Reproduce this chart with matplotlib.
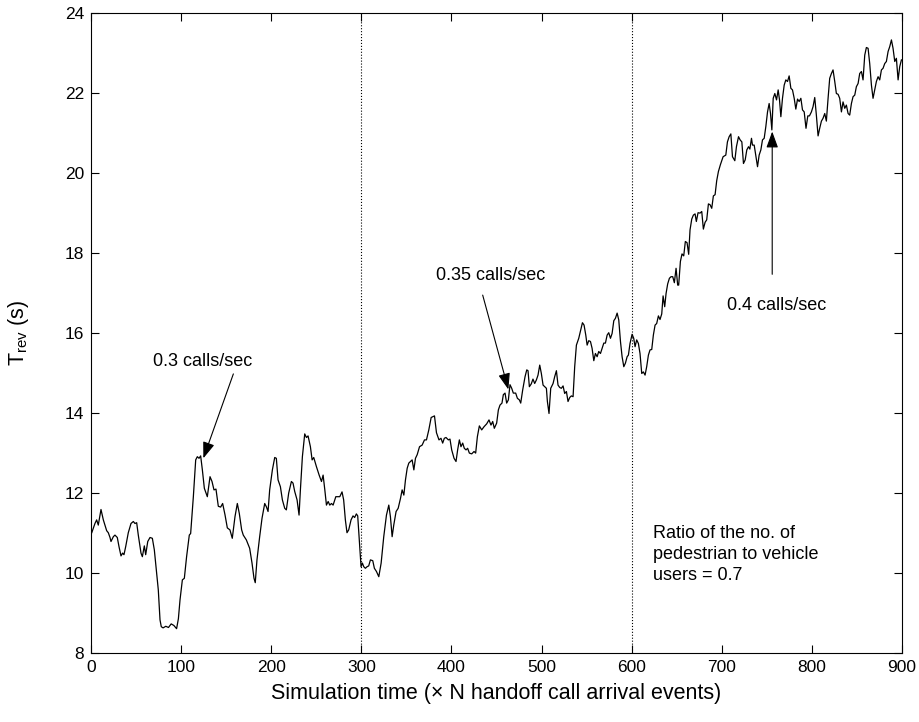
import matplotlib
matplotlib.use("Agg")
import matplotlib.pyplot as plt

plt.rcParams['font.family'] = ['Liberation Sans', 'DejaVu Sans']

# simulation time (x N handoff call arrival events)
t = [0, 0.7, 4.4, 6.3, 8.1, 11.1, 13.7, 17.4, 19.2, 21.1, 22.2, 24.8, 26.6, 29.2, 31.1,
     33.3, 35.1, 36.6, 38.5, 41.4, 44.4, 47.0, 48.8, 50.7, 52.5, 55.5, 57.0, 59.2, 60.7,
     63.0, 65.5, 68.1, 70.3, 72.2, 74.7, 76.6, 78, 80, 83, 86, 89, 92, 95, 97, 98.8,
     101.4, 103.6, 106.1, 109.1, 110.6, 113.6, 116.2, 118.0, 119.9, 121.7, 123.6, 125.8,
     129.1, 132.1, 134.3, 136.5, 138.7, 141.3, 143.9, 146.1, 148.7, 151.3, 154.2, 156.8,
     159.8, 162.4, 164.6, 167.2, 169.0, 172.4, 176.1, 178.7, 180.9, 182.3, 184.2, 187.2,
     189.8, 192.8, 194.6, 196.5, 198.3, 201.3, 203.9, 205.7, 207.6, 210.2, 212.4, 215.0,
     216.8, 219.4, 222.4, 224.2, 226.1, 228.7, 230.9, 232.4, 234.6, 237.2, 239.1, 240.9,
     243.5, 245.4, 247.2, 250.2, 253.2, 255.8, 257.6, 259.5, 261.3, 263.2, 265.0, 266.9,
     268.7, 271.7, 274.3, 276.1, 278.6, 280.4, 282.3, 284.1, 286.0, 288.6, 290.8, 292.6,
     294.5, 296.0, 297.5, 299.7, 301.2, 302.7, 304.5, 306.4, 308.2, 310.1, 312.7, 314.5,
     316.8, 319.4, 322.0, 324.9, 327.9, 330.5, 332.3, 334.2, 336.0, 338.6, 340.9, 343.5,
     345.3, 347.2, 349.0, 350.9, 352.7, 354.6, 356.4, 358.3, 360.1, 362.0, 364.6, 367.5,
     370.1, 372.3, 374.9, 377.5, 379.4, 381.2, 383.4, 386.2, 388.4, 390.3, 392.1, 394.0,
     396.6, 398.4, 400.3, 402.9, 405.1, 406.9, 408.8, 410.6, 412.5, 414.3, 416.2, 418.0,
     419.9, 422.5, 425.1, 426.9, 428.8, 431.0, 433.6, 436.2, 439.1, 441.7, 443.9, 445.8,
     447.6, 450.2, 452.1, 453.9, 456.1, 457.6, 459.5, 461.3, 463.2, 465.0, 466.9, 468.7,
     471.3, 473.2, 475.4, 476.9, 479.1, 481.7, 483.6, 485.0, 486.5, 488.6, 490.5, 492.4,
     494.3, 496.1, 498.0, 499.8, 501.7, 503.5, 505.4, 506.5, 508.3, 510.2, 512.8, 514.6,
     516.5, 518.3, 520.2, 522.0, 523.9, 525.7, 527.6, 529.4, 531.3, 533.1, 535.0, 536.8,
     538.7, 541.3, 543.5, 545.4, 547.2, 549.1, 550.6, 552.4, 554.3, 556.1, 558.0, 559.8,
     561.7, 563.5, 565.4, 567.2, 569.1, 570.9, 572.8, 574.6, 576.5, 578.3, 580.2, 582.0,
     583.9, 585.7, 587.6, 589.4, 591.3, 593.1, 595.0, 596.4, 598.2, 600.5, 602.3, 603.8,
     605.6, 607.5, 609.3, 611.2, 613.0, 614.9, 616.7, 618.6, 620.4, 622.3, 624.1, 626.0,
     627.8, 629.7, 631.5, 633.4, 634.9, 636.7, 638.2, 640.0, 641.9, 643.7, 645.6, 647.4,
     649.3, 651.1, 652.2, 654.1, 655.9, 657.8, 659.6, 661.5, 663.3, 664.8, 666.7, 668.5,
     670.4, 671.8, 673.7, 675.9, 677.8, 679.6, 681.5, 683.3, 685.2, 687.0, 688.9, 690.7,
     692.6, 694.4, 696.3, 698.5, 701.5, 704.5, 706.3, 708.2, 710.1, 711.9, 714.5, 716.3,
     718.6, 720.4, 722.3, 724.1, 726.0, 727.8, 729.7, 731.2, 733.0, 734.1, 736.0, 737.8,
     739.7, 741.5, 743.4, 745.2, 747.1, 748.9, 750.8, 752.6, 754.1, 755.6, 757.1, 758.9,
     760.8, 762.6, 764.1, 765.6, 767.4, 769.3, 771.1, 773.0, 774.8, 776.7, 778.5, 780.4,
     782.2, 784.1, 785.9, 787.8, 789.6, 791.5, 793.5, 795.5, 797.3, 799.5, 801.3, 803.2,
     805.0, 806.9, 808.7, 810.6, 812.4, 814.3, 816.1, 818.0, 819.8, 821.7, 823.5, 825.4,
     827.2, 829.1, 830.9, 832.8, 834.6, 836.5, 838.3, 840.2, 842.0, 843.9, 845.7, 847.6,
     849.4, 851.3, 853.1, 855.0, 856.8, 858.7, 860.5, 862.4, 864.2, 866.1, 867.9, 869.8,
     871.6, 873.5, 875.3, 877.2, 879.0, 880.9, 882.7, 884.6, 886.4, 888.3, 890.1, 892.0,
     893.8, 895.7, 897.5, 899.4]

# T_rev in seconds
trev = [11.2, 10.99, 11.23, 11.32, 11.19, 11.58, 11.32, 11.05, 11.0, 10.88, 10.78, 10.9,
        10.94, 10.88, 10.65, 10.42, 10.49, 10.45, 10.65, 11.0, 11.23, 11.28, 11.23, 11.25,
        10.94, 10.49, 10.4, 10.67, 10.45, 10.78, 10.88, 10.86, 10.57, 10.15, 9.57, 8.82,
        8.65, 8.62, 8.66, 8.63, 8.72, 8.68, 8.6, 8.85, 9.32, 9.82, 9.86, 10.4, 10.94, 10.98,
        11.9, 12.82, 12.9, 12.86, 12.92, 12.57, 12.11, 11.9, 12.4, 12.28, 12.07, 12.09,
        11.66, 11.64, 11.73, 11.45, 11.12, 11.07, 10.86, 11.4, 11.73, 11.48, 11.07, 10.94,
        10.82, 10.61, 10.24, 9.86, 9.75, 10.32, 10.9, 11.36, 11.73, 11.65, 11.53, 12.07,
        12.57, 12.88, 12.86, 12.32, 12.15, 11.82, 11.61, 11.57, 11.99, 12.28, 12.24, 12.03,
        11.82, 11.44, 12.07, 12.9, 13.47, 13.38, 13.42, 13.15, 12.82, 12.88, 12.65, 12.44,
        12.28, 12.44, 12.07, 11.69, 11.78, 11.69, 11.73, 11.69, 11.9, 11.9, 11.9, 12.02,
        11.82, 11.32, 11.0, 11.07, 11.32, 11.42, 11.38, 11.47, 11.42, 10.9, 10.15, 10.24,
        10.15, 10.11, 10.15, 10.17, 10.32, 10.3, 10.11, 10.03, 9.9, 10.24, 10.9, 11.44,
        11.69, 11.4, 10.9, 11.19, 11.53, 11.61, 11.86, 12.07, 11.94, 12.32, 12.61, 12.74,
        12.78, 12.82, 12.57, 12.86, 12.95, 13.15, 13.19, 13.32, 13.32, 13.57, 13.88, 13.9,
        13.92, 13.5, 13.32, 13.36, 13.24, 13.36, 13.38, 13.32, 13.34, 13.07, 12.86, 12.78,
        13.07, 13.32, 13.15, 13.24, 13.11, 13.07, 13.11, 12.99, 12.97, 13.03, 12.99, 13.4,
        13.67, 13.57, 13.65, 13.72, 13.82, 13.69, 13.78, 13.61, 13.74, 14.07, 14.19, 14.24,
        14.45, 14.49, 14.24, 14.32, 14.7, 14.61, 14.49, 14.49, 14.36, 14.32, 14.24, 14.57,
        14.9, 15.07, 15.05, 14.65, 14.72, 14.84, 14.73, 14.82, 14.94, 15.19, 14.98, 14.69,
        14.65, 14.61, 14.28, 13.98, 14.61, 14.73, 14.9, 15.05, 14.69, 14.63, 14.61, 14.67,
        14.48, 14.53, 14.28, 14.38, 14.42, 14.4, 15.15, 15.69, 15.86, 16.07, 16.25, 16.19,
        15.94, 15.69, 15.8, 15.78, 15.61, 15.3, 15.48, 15.4, 15.53, 15.48, 15.61, 15.74,
        15.74, 15.94, 16.0, 15.86, 15.98, 16.3, 16.36, 16.49, 16.32, 15.78, 15.4, 15.15,
        15.24, 15.4, 15.44, 15.73, 15.96, 15.86, 15.65, 15.82, 15.73, 15.48, 14.98, 15.02,
        14.94, 15.15, 15.44, 15.57, 15.58, 15.94, 16.19, 16.23, 16.42, 16.33, 16.47, 16.92,
        16.65, 16.98, 17.22, 17.36, 17.4, 17.4, 17.25, 17.61, 17.19, 17.19, 17.78, 17.97,
        17.92, 18.28, 18.25, 17.96, 18.57, 18.84, 18.94, 18.97, 18.78, 19.0, 18.99, 19.03,
        18.59, 18.76, 18.82, 19.22, 19.2, 19.11, 19.42, 19.45, 19.8, 20.03, 20.2, 20.4,
        20.44, 20.77, 20.9, 20.97, 20.4, 20.3, 20.65, 20.9, 20.82, 20.77, 20.23, 20.32,
        20.57, 20.65, 20.59, 20.86, 20.69, 20.69, 20.42, 20.15, 20.44, 20.57, 20.82, 20.86,
        21.15, 21.52, 21.73, 21.48, 21.07, 21.86, 21.98, 21.82, 22.07, 21.82, 21.4, 21.86,
        22.19, 22.32, 22.28, 22.42, 22.11, 22.07, 21.86, 21.59, 21.84, 21.78, 21.86, 21.57,
        21.52, 21.11, 21.42, 21.42, 21.52, 21.65, 21.88, 21.44, 20.92, 21.11, 21.29, 21.36,
        21.48, 21.29, 21.86, 22.36, 22.48, 22.57, 22.28, 21.98, 21.96, 21.86, 21.52, 21.77,
        21.61, 21.69, 21.48, 21.44, 21.73, 21.9, 21.94, 22.15, 22.23, 22.48, 22.53, 22.32,
        22.94, 23.13, 23.11, 22.73, 22.19, 21.86, 22.07, 22.28, 22.4, 22.32, 22.57, 22.61,
        22.73, 22.78, 23.03, 23.15, 23.32, 23.11, 22.78, 22.86, 22.32, 22.65, 22.82]

# boundaries where the handoff call rate changes
rate_changes = [300, 600]

# (label, text position, arrow tail, arrow tip)
rate_notes = [
    ("0.3 calls/sec", (124, 15.29), (158, 14.97), (124.7, 12.86)),
    ("0.35 calls/sec", (444, 17.43), (434.7, 16.94), (463.2, 14.58)),
    ("0.4 calls/sec", (761, 16.69), (756, 17.46), (756, 21.03)),
]

fig = plt.figure(figsize=(9.2, 7.22), dpi=100)
ax = fig.add_axes([0.0989, 0.096, 0.8815, 0.8864])

ax.plot(t, trev, color='k', lw=0.9)
for xc in rate_changes:
    ax.axvline(xc, color='k', ls=':', lw=0.8)

for label, txt_xy, tail, tip in rate_notes:
    ax.text(txt_xy[0], txt_xy[1], label, ha='center', va='center', fontsize=13)
    ax.annotate('', xy=tip, xytext=tail,
                arrowprops=dict(arrowstyle='-|>,head_length=0.55,head_width=0.2',
                                color='k', lw=0.8, shrinkA=0, shrinkB=0,
                                mutation_scale=18))

ax.text(623.4, 10.46, "Ratio of the no. of\npedestrian to vehicle\nusers = 0.7",
        ha='left', va='center', fontsize=13, linespacing=1.32)

ax.set_xlim(0, 900)
ax.set_ylim(8, 24)
ax.set_xticks(range(0, 901, 100))
ax.set_yticks(range(8, 25, 2))
ax.tick_params(direction='in', top=True, right=True, length=5.5, width=0.8,
               labelsize=12.5, pad=5)
for sp in ax.spines.values():
    sp.set_linewidth(0.8)

ax.set_xlabel(u"Simulation time (\u00d7 N handoff call arrival events)", fontsize=15.5)
ax.set_ylabel(r"$\mathregular{T_{rev}}$ (s)", fontsize=15.5)
ax.xaxis.set_label_coords(0.5, -0.047)
ax.yaxis.set_label_coords(-0.074, 0.5)

fig.savefig("out.png", dpi=100)
